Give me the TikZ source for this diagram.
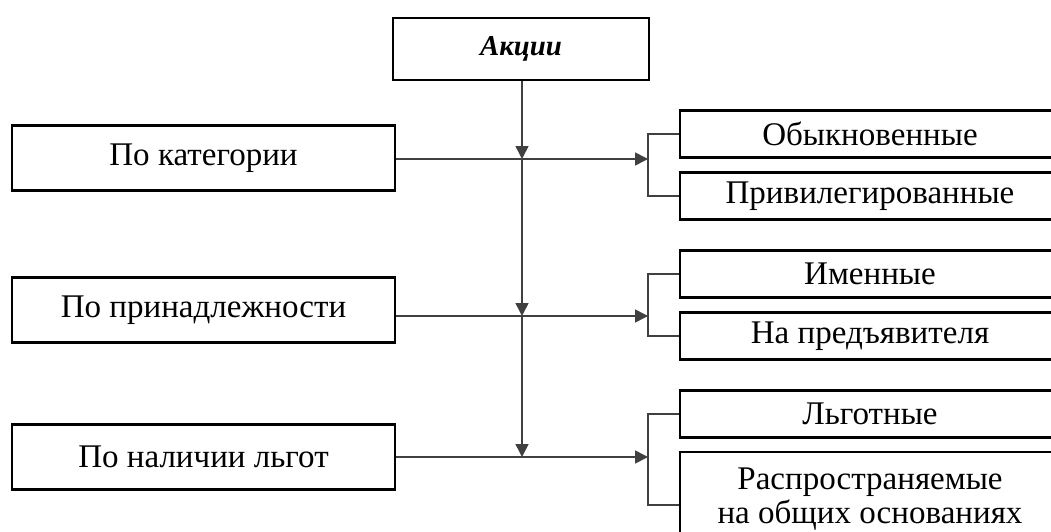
\documentclass[tikz,border=0pt]{standalone}
\usepackage{fontspec}
\setmainfont{Liberation Serif}
\usetikzlibrary{arrows.meta, positioning}

\begin{document}
\begin{tikzpicture}[
    x=0.1mm, y=-0.1mm,
    every node/.style={font=\fontsize{9.4}{9.8}\selectfont},
    block/.style={rectangle, draw, line width=0.7pt, minimum width=38.3mm, minimum height=6.5mm, inner sep=0pt, align=center},
    kind/.style={rectangle, draw, line width=0.7pt, minimum width=38mm, minimum height=4.7mm, inner sep=0pt, align=center},
    link/.style={line width=0.45pt, black!75},
    arrow/.style={link, -{Triangle[length=1.3mm, width=1.3mm]}}
]

\useasboundingbox (0,0) rectangle (1051,531);
\clip (0,0) rectangle (1051,531);

% root
\node[block, minimum width=25.6mm, minimum height=6.2mm, font=\fontsize{8.2}{10}\selectfont\bfseries\itshape] (akcii) at (521,49) {Акции};

% criteria
\node[block] (cat) at (203.5,158) {По категории};
\node[block] (own) at (203.5,310) {По принадлежности};
\node[block] (lgot) at (203.5,457) {По наличии льгот};

% kinds
\node[kind] (obyk) at (870,134) {Обыкновенные};
\node[kind] (priv) at (870,196) {Привилегированные};
\node[kind] (imen) at (870,274) {Именные};
\node[kind] (pred) at (870,336) {На предъявителя};
\node[kind] (lgotn) at (870,414) {Льготные};
\node[kind, minimum height=9.4mm] (obsh) at (870,499) {Распространяемые\\на общих основаниях};

% junctions and brackets
\coordinate (j1) at (522,159);
\coordinate (j2) at (522,316);
\coordinate (j3) at (522,457);
\coordinate (b1) at (648,159);
\coordinate (b2) at (648,316);
\coordinate (b3) at (648,457);

\draw[arrow] (akcii.south -| j1) -- (j1);
\draw[arrow] (j1) -- (j2);
\draw[arrow] (j2) -- (j3);

\draw[arrow] (cat.east |- b1) -- (b1);
\draw[arrow] (own.east |- b2) -- (b2);
\draw[arrow] (lgot.east |- b3) -- (b3);

\draw[link] (obyk.west) -| (b1) |- (priv.west);
\draw[link] (imen.west) -| (b2) |- (pred.west);
\draw[link] (lgotn.west) -| (b3) |- ([yshift=-0.6mm]obsh.west);

\end{tikzpicture}
\end{document}
